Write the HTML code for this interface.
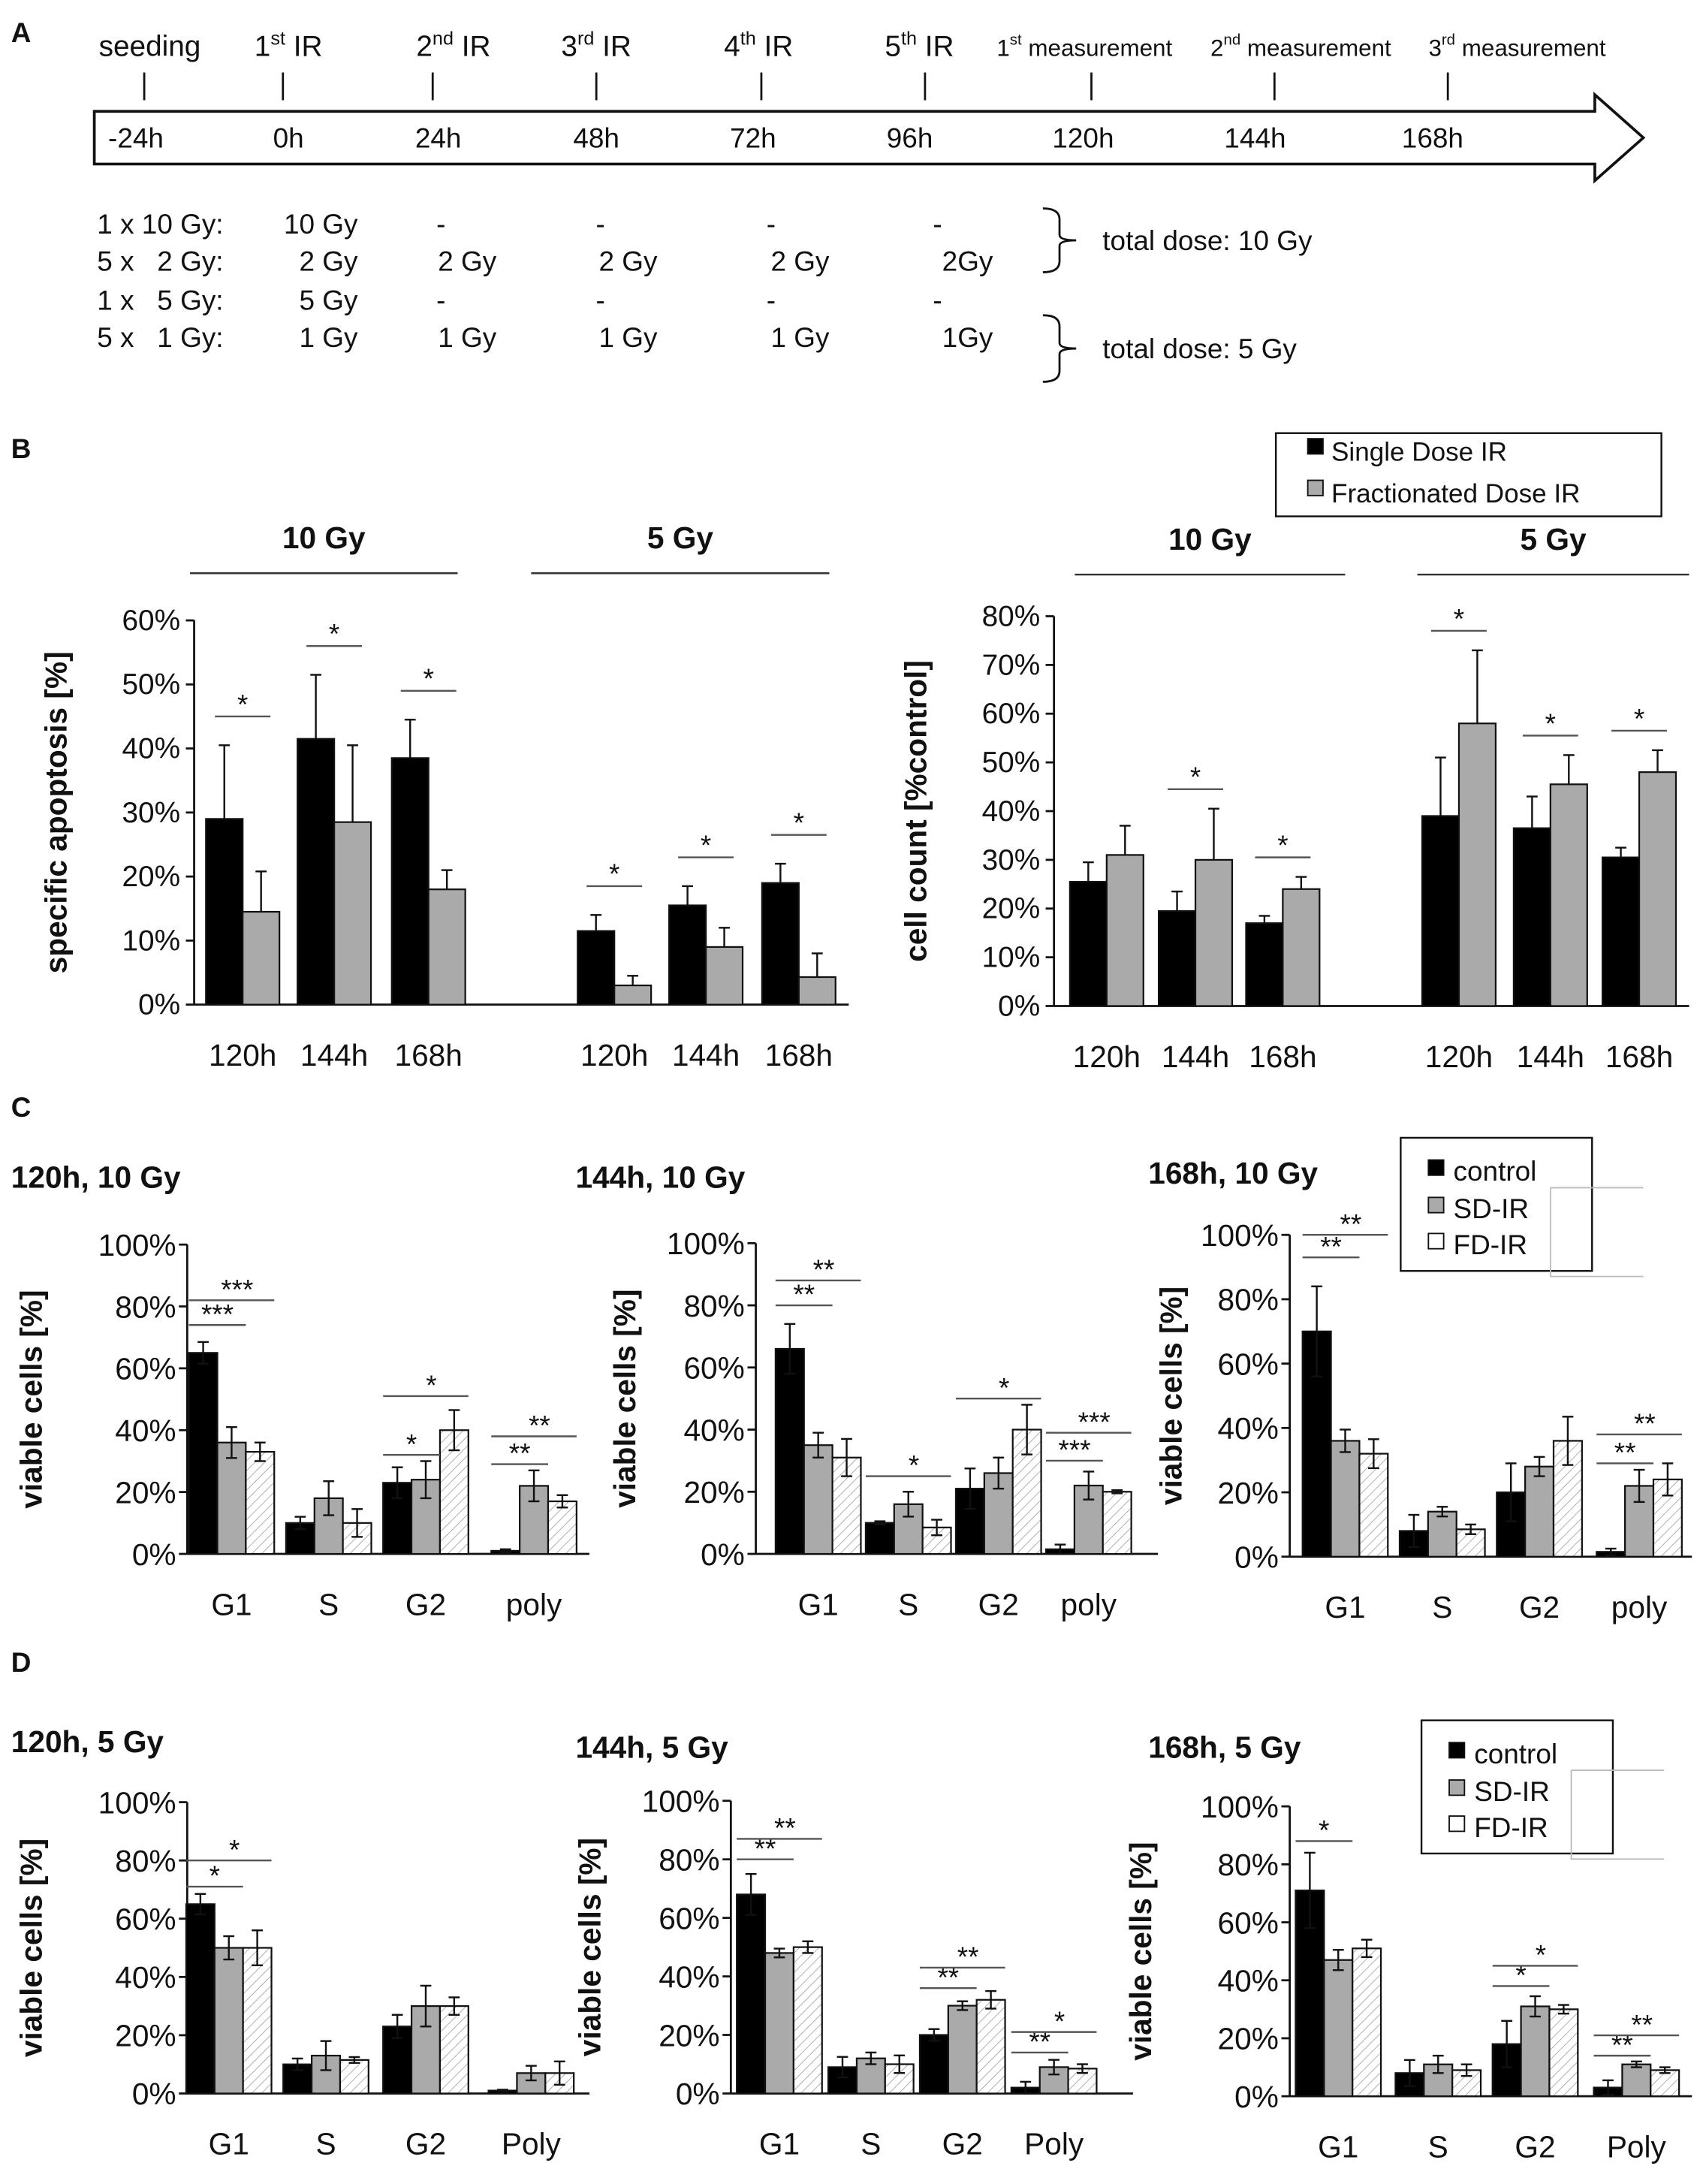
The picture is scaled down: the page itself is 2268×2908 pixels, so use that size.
<!DOCTYPE html>
<html><head><meta charset="utf-8">
<style>
html,body{margin:0;padding:0;background:#fff;}
svg{display:block;}
text{font-family:"Liberation Sans",sans-serif;fill:#111;}
.b{font-weight:bold;}
</style></head>
<body>
<svg id="fig" width="2268" height="2908" viewBox="0 0 1228 1574" xmlns="http://www.w3.org/2000/svg">
<defs>
<pattern id="hatch" patternUnits="userSpaceOnUse" width="5" height="5" patternTransform="rotate(45)">
<rect width="5" height="5" fill="#fff"/><line x1="0" y1="0" x2="0" y2="5" stroke="#aaa" stroke-width="1"/>
</pattern>
</defs>
<g id="panelA"></g>
<g id="panelB"></g>
<g id="panelCD"></g>
</svg>
<script>
const NS="http://www.w3.org/2000/svg";
function el(p,t,a,txt){const e=document.createElementNS(NS,t);for(const k in a)e.setAttribute(k,a[k]);if(txt!==undefined)e.textContent=txt;p.appendChild(e);return e;}

// ---------- Panel A ----------
const timeLabels=["-24h","0h","24h","48h","72h","96h","120h","144h","168h"];
const eventLabels=["seeding","1st IR","2nd IR","3rd IR","4th IR","5th IR","1st measurement","2nd measurement","3rd measurement"];
const A=document.getElementById('panelA');
let t=el(A,'text',{x:8,y:30,'font-size':20,class:'b'},'A');

let ar=el(A,'path',{d:'M68,80 L1150,80 L1150,68 L1185,99 L1150,130 L1150,118 L68,118 Z',fill:'#fff',stroke:'#111','stroke-width':2});

const tickX=[104,204,312,430,549,667,787,919,1044];
const labX=[98,208,316,430,543,656,781,905,1033];
const evX=[108,208,327,430,547,663,782,938,1094];
for(let i=0;i<9;i++){
  el(A,'line',{x1:tickX[i],y1:52,x2:tickX[i],y2:72,stroke:'#111','stroke-width':1.5});
  let tl=el(A,'text',{x:labX[i],y:106,'font-size':20,'text-anchor':'middle'},timeLabels[i]);
  
  const ev=eventLabels[i];let et;
  if(i===0){et=el(A,'text',{x:evX[i],y:40,'font-size':21,'text-anchor':'middle'},ev);}
  else{
    const m=ev.match(/^(\d)(st|nd|rd|th) (.*)$/);
    const fs=i>=6?17:21;
    et=el(A,'text',{x:evX[i],y:40,'font-size':fs,'text-anchor':'middle'});
    el(et,'tspan',{},m[1]);el(et,'tspan',{dy:-8,'font-size':fs*0.65},m[2]);el(et,'tspan',{dy:8},' '+m[3]);
  }
  
}
const doseRows=[["1 x 10 Gy:","10 Gy","-","-","-","-"],["5 x   2 Gy:","2 Gy","2 Gy","2 Gy","2 Gy","2Gy"],["1 x   5 Gy:","5 Gy","-","-","-","-"],["5 x   1 Gy:","1 Gy","1 Gy","1 Gy","1 Gy","1Gy"]];
const rowY=[168,195,223,250];
doseRows.forEach((r,ri)=>{r.forEach((c,ci)=>{const x=(ci===0)?70:(c==='-'?[0,0,318,433,556,676][ci]:[0,258,358,474,598,716][ci]);
 const anc=(ci===0||c==='-')?(ci===0?'start':'middle'):'end';
 let d=el(A,'text',{x:x,y:rowY[ri],'font-size':20,'text-anchor':anc,'xml:space':'preserve',style:'white-space:pre'},c);
 });});
[[150,196,'total dose: 10 Gy',180],[227,275,'total dose: 5 Gy',258]].forEach(b=>{
 el(A,'path',{d:`M752,${b[0]} Q764,${b[0]} 764,${b[0]+8} L764,${(b[0]+b[1])/2-4} Q764,${(b[0]+b[1])/2} 776,${(b[0]+b[1])/2} Q764,${(b[0]+b[1])/2} 764,${(b[0]+b[1])/2+4} L764,${b[1]-8} Q764,${b[1]} 752,${b[1]}`,fill:'none',stroke:'#111','stroke-width':1.5});
 let tt=el(A,'text',{x:795,y:b[3],'font-size':20},b[2]);
});

// ---------- Panel B ----------
const bCats=["120h","144h","168h","120h","144h","168h"];
const apoSingle=[29,41.5,38.5,11.5,15.5,19];
const apoFrac=[14.5,28.5,18,3,9,4.3];
const apoSingleErr=[11.5,10,6,2.5,3,3];
const apoFracErr=[6.3,12,3,1.5,3,3.7];
const apoTicks=["0%","10%","20%","30%","40%","50%","60%"];
const cntSingle=[25.5,19.5,17,39,36.5,30.5];
const cntFrac=[31,30,24,58,45.5,48];
const cntSingleErr=[4,4,1.5,12,6.5,2];
const cntFracErr=[6,10.5,2.5,15,6,4.5];
const cntTicks=["0%","10%","20%","30%","40%","50%","60%","70%","80%"];
const B=document.getElementById('panelB');
t=el(B,'text',{x:8,y:330,'font-size':20,class:'b'},'B');

function barChartB(opt){
 const g=el(B,'g',{});
 const y=v=>opt.y0-(v/opt.vmax)*(opt.y0-opt.ytop);
 el(g,'line',{x1:opt.ax,y1:opt.ytop,x2:opt.ax,y2:opt.y0,stroke:'#111','stroke-width':1.5});
 el(g,'line',{x1:opt.ax,y1:opt.y0,x2:opt.xend,y2:opt.y0,stroke:'#111','stroke-width':1.5});
 opt.ticks.forEach((tk,i)=>{const v=i*opt.vmax/(opt.ticks.length-1);
  el(g,'line',{x1:opt.ax-6,y1:y(v),x2:opt.ax,y2:y(v),stroke:'#111','stroke-width':1.5});
  let tl=el(g,'text',{x:opt.ax-10,y:y(v)+7,'font-size':21,'text-anchor':'end'},tk);});
 let yt=el(g,'text',{x:0,y:0,'font-size':22,class:'b','text-anchor':'middle',transform:`translate(${opt.ax-92},${(opt.y0+opt.ytop)/2}) rotate(-90)`},opt.ytitle);
 
 const bw=26.5;
 opt.s1.forEach((v,i)=>{const cx=opt.cx[i];
  [[v,opt.e1[i],'#000',cx-bw],[opt.s2[i],opt.e2[i],'#aaa',cx]].forEach((b,k)=>{
   let r=el(g,'rect',{x:b[3],y:y(b[0]),width:bw,height:opt.y0-y(b[0]),fill:b[2],stroke:'#111','stroke-width':1.2});
   
   const mx=b[3]+bw/2;
   el(g,'line',{x1:mx,y1:y(b[0]),x2:mx,y2:y(b[0]+b[1]),stroke:'#111','stroke-width':1.3});
   el(g,'line',{x1:mx-4,y1:y(b[0]+b[1]),x2:mx+4,y2:y(b[0]+b[1]),stroke:'#111','stroke-width':1.3});
  });
  let xl=el(g,'text',{x:cx,y:opt.y0+44,'font-size':22,'text-anchor':'middle'},bCats[i]);
  if(opt.sig[i]){const top=Math.max(v+opt.e1[i],opt.s2[i]+opt.e2[i])+opt.sigGap;
   el(g,'line',{x1:cx-20,y1:y(top),x2:cx+20,y2:y(top),stroke:'#555','stroke-width':1.3});
   let st=el(g,'text',{x:cx,y:y(top)-2,'font-size':20,'text-anchor':'middle'},'*');}
 });
 opt.groups.forEach(gr=>{el(g,'line',{x1:gr[0],y1:opt.gy,x2:gr[1],y2:opt.gy,stroke:'#333','stroke-width':1.3});
  let gl=el(g,'text',{x:(gr[0]+gr[1])/2,y:opt.gy-18,'font-size':22,class:'b','text-anchor':'middle'},gr[2]);});
}
barChartB({name:'apoptosis-chart',ax:140,xend:612,y0:724,ytop:447,vmax:60,ticks:apoTicks,ytitle:'specific apoptosis [%]',
 s1:apoSingle,s2:apoFrac,e1:apoSingleErr,e2:apoFracErr,cx:[175,241,309,443,509,576],sig:[1,1,1,1,1,1],sigGap:4.5,
 groups:[[137,330,'10 Gy'],[383,598,'5 Gy']],gy:413});
barChartB({name:'cell-count-chart',ax:760,xend:1218,y0:725,ytop:444,vmax:80,ticks:cntTicks,ytitle:'cell count [%control]',
 s1:cntSingle,s2:cntFrac,e1:cntSingleErr,e2:cntFracErr,cx:[798,862,925,1052,1118,1182],sig:[0,1,1,1,1,1],sigGap:4,
 groups:[[775,970,'10 Gy'],[1022,1218,'5 Gy']],gy:414});
const lgB=el(B,'g',{});
el(lgB,'rect',{x:920,y:312,width:278,height:60,fill:'#fff',stroke:'#111','stroke-width':1.3});
[['#000','Single Dose IR',326],['#aaa','Fractionated Dose IR',356]].forEach(l=>{
 el(lgB,'rect',{x:943,y:l[2]-10,width:11,height:11,fill:l[0],stroke:'#111'});
 let lt=el(lgB,'text',{x:960,y:l[2]+6,'font-size':19},l[1]);});

// ---------- Panels C & D ----------
const phaseCats=["G1","S","G2","poly"];
const phaseCatsD=["G1","S","G2","Poly"];
const c1Control=[65,10,23,1], c1SD=[36,18,24,22], c1FD=[33,10,40,17];
const c1ControlErr=[3.5,2,5,0.5], c1SDErr=[5,5.5,6,5], c1FDErr=[3,4.5,6.5,2];
const c2Control=[66,10,21,1.5], c2SD=[35,16,26,22], c2FD=[31,8.5,40,20];
const c2ControlErr=[8,0.5,6.5,1.5], c2SDErr=[4,4,5,4.5], c2FDErr=[6,2.5,8,0.5];
const c3Control=[70,8,20,1.5], c3SD=[36,14,28,22], c3FD=[32,8.5,36,24];
const c3ControlErr=[14,5,9,1], c3SDErr=[3.5,1.5,3,5], c3FDErr=[4.5,1.5,7.5,5];
const d1Control=[65,10,23,1], d1SD=[50,13,30,7], d1FD=[50,11.5,30,7];
const d1ControlErr=[3.5,2,4,0.3], d1SDErr=[4,5,7,2.5], d1FDErr=[6,1,3,4];
const d2Control=[68,9,20,2], d2SD=[48,12,30,9], d2FD=[50,10,32,8.5];
const d2ControlErr=[7,3.5,2,2], d2SDErr=[1.5,2,1.5,2.5], d2FDErr=[2,3,3,1.5];
const d3Control=[71,8,18,3], d3SD=[47,11,31,11], d3FD=[51,9,30,9];
const d3ControlErr=[13,4.5,8,2.5], d3SDErr=[3.5,3,3.5,1], d3FDErr=[3,2,1.5,1];
const pctTicks=["0%","20%","40%","60%","80%","100%"];
const CD=document.getElementById('panelCD');
t=el(CD,'text',{x:8,y:805,'font-size':20,class:'b'},'C');
t=el(CD,'text',{x:8,y:1205,'font-size':20,class:'b'},'D');

function cycleChart(o){
 const g=el(CD,'g',{});
 const y=v=>o.y0-(v/100)*(o.y0-o.ytop);
 let ti=el(g,'text',{x:o.tx,y:o.ty,'font-size':22,class:'b'},o.title);
 el(g,'line',{x1:o.ax,y1:o.ytop,x2:o.ax,y2:o.y0,stroke:'#111','stroke-width':1.5});
 el(g,'line',{x1:o.ax,y1:o.y0,x2:o.ax+290,y2:o.y0,stroke:'#111','stroke-width':1.5});
 pctTicks.forEach((tk,i)=>{const v=i*20;
  el(g,'line',{x1:o.ax-6,y1:y(v),x2:o.ax,y2:y(v),stroke:'#111','stroke-width':1.5});
  let tl=el(g,'text',{x:o.ax-8,y:y(v)+8,'font-size':22,'text-anchor':'end'},tk);});
 let yt=el(g,'text',{x:0,y:0,'font-size':22,class:'b','text-anchor':'middle',transform:`translate(${o.ytx},${(o.y0+o.ytop)/2}) rotate(-90)`},'viable cells [%]');
 
 const bw=20.5;
 o.cats.forEach((c,i)=>{const cx=o.cx[i];
  const series=[[o.ctl[i],o.ctlE[i],'#000',cx-1.5*bw,'bar-control'],[o.sd[i],o.sdE[i],'#aaa',cx-0.5*bw,'bar-sd-ir'],[o.fd[i],o.fdE[i],'url(#hatch)',cx+0.5*bw,'bar-fd-ir']];
  series.forEach(s=>{let r=el(g,'rect',{x:s[3],y:y(s[0]),width:bw,height:o.y0-y(s[0]),fill:s[2],stroke:'#111','stroke-width':1.2});
   
   const mx=s[3]+bw/2;
   el(g,'line',{x1:mx,y1:y(s[0]-s[1]),x2:mx,y2:y(s[0]+s[1]),stroke:'#111','stroke-width':1.3});
   el(g,'line',{x1:mx-4,y1:y(s[0]+s[1]),x2:mx+4,y2:y(s[0]+s[1]),stroke:'#111','stroke-width':1.3});
   el(g,'line',{x1:mx-4,y1:y(s[0]-s[1]),x2:mx+4,y2:y(s[0]-s[1]),stroke:'#111','stroke-width':1.3});});
  let xl=el(g,'text',{x:cx,y:o.y0+44,'font-size':22,'text-anchor':'middle'},c);
 });
 o.sig.forEach(s=>{const cx=o.cx[s[0]];const x1=cx-1.5*bw,x2=s[3]?cx+1.5*bw:cx+0.5*bw;
  el(g,'line',{x1:x1,y1:y(s[1]),x2:x2,y2:y(s[1]),stroke:'#555','stroke-width':1.3});
  let st=el(g,'text',{x:(x1+x2)/2+(s[3]?4:0),y:y(s[1])-1,'font-size':20,'text-anchor':'middle'},s[2]);});
}
function legend(x,y0,name){
 const g=el(CD,'g',{});
 el(g,'rect',{x:x,y:y0,width:138,height:96,fill:'#fff',stroke:'#111','stroke-width':1.3});
 el(g,'path',{d:`M${x+108},${y0+36} L${x+175},${y0+36} M${x+108},${y0+36} L${x+108},${y0+100} L${x+175},${y0+100}`,fill:'none',stroke:'#bbb','stroke-width':1});
 [['#000','control',25],['#aaa','SD-IR',52],['#fff','FD-IR',78]].forEach(l=>{
  el(g,'rect',{x:x+20,y:y0+l[2]-9,width:11,height:11,fill:l[0],stroke:'#111'});
  let lt=el(g,'text',{x:x+38,y:y0+l[2]+6,'font-size':20},l[1]);});
}
cycleChart({name:'chart-120h-10gy',title:'120h, 10 Gy',tx:8,ty:856,ax:135,ytx:30,y0:1120,ytop:897,cx:[167,237,307,385],cats:phaseCats,
 ctl:c1Control,sd:c1SD,fd:c1FD,ctlE:c1ControlErr,sdE:c1SDErr,fdE:c1FDErr,
 sig:[[0,74,'***',0],[0,82,'***',1],[2,32,'*',0],[2,51,'*',1],[3,29,'**',0],[3,38,'**',1]]});
cycleChart({name:'chart-144h-10gy',title:'144h, 10 Gy',tx:415,ty:856,ax:545,ytx:458,y0:1120,ytop:896,cx:[590,655,720,785],cats:phaseCats,
 ctl:c2Control,sd:c2SD,fd:c2FD,ctlE:c2ControlErr,sdE:c2SDErr,fdE:c2FDErr,
 sig:[[0,80,'**',0],[0,88,'**',1],[1,25,'*',1],[2,50,'*',1],[3,30,'***',0],[3,39,'***',1]]});
cycleChart({name:'chart-168h-10gy',title:'168h, 10 Gy',tx:828,ty:853,ax:930,ytx:852,y0:1122,ytop:890,cx:[970,1040,1110,1182],cats:phaseCats,
 ctl:c3Control,sd:c3SD,fd:c3FD,ctlE:c3ControlErr,sdE:c3SDErr,fdE:c3FDErr,
 sig:[[0,93,'**',0],[0,100,'**',1],[3,29,'**',0],[3,38,'**',1]]});
legend(1010,820,'legend-c');
cycleChart({name:'chart-120h-5gy',title:'120h, 5 Gy',tx:8,ty:1263,ax:135,ytx:30,y0:1509,ytop:1299,cx:[165,235,307,383],cats:phaseCatsD,
 ctl:d1Control,sd:d1SD,fd:d1FD,ctlE:d1ControlErr,sdE:d1SDErr,fdE:d1FDErr,
 sig:[[0,71,'*',0],[0,80,'*',1]]});
cycleChart({name:'chart-144h-5gy',title:'144h, 5 Gy',tx:415,ty:1267,ax:527,ytx:433,y0:1509,ytop:1298,cx:[562,628,694,760],cats:phaseCatsD,
 ctl:d2Control,sd:d2SD,fd:d2FD,ctlE:d2ControlErr,sdE:d2SDErr,fdE:d2FDErr,
 sig:[[0,80,'**',0],[0,87,'**',1],[2,36,'**',0],[2,43,'**',1],[3,14,'**',0],[3,21,'*',1]]});
cycleChart({name:'chart-168h-5gy',title:'168h, 5 Gy',tx:828,ty:1267,ax:930,ytx:830,y0:1511,ytop:1302,cx:[965,1037,1107,1180],cats:phaseCatsD,
 ctl:d3Control,sd:d3SD,fd:d3FD,ctlE:d3ControlErr,sdE:d3SDErr,fdE:d3FDErr,
 sig:[[0,88,'*',0],[2,38,'*',0],[2,45,'*',1],[3,14,'**',0],[3,21,'**',1]]});
legend(1025,1240,'legend-d');
</script>
</body></html>
